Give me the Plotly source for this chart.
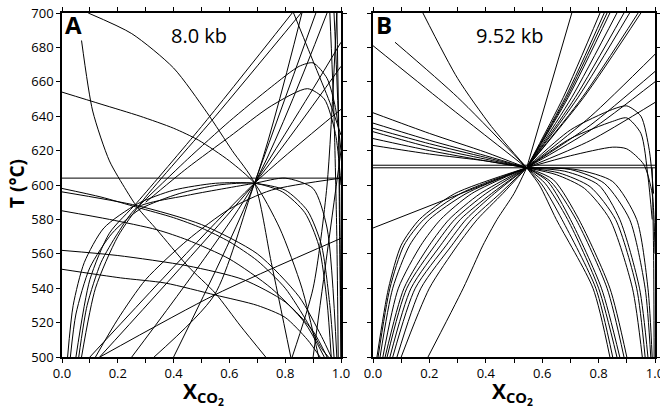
import plotly.graph_objects as go

# ---------------- Panel A (8.0 kb) curves: X_CO2 and T values ----------------
A_X = [
    [0.0, 1.0],
    [0.07, 0.11, 0.17, 0.23, 0.27, 0.34, 0.45, 0.55, 0.64, 0.73],
    [0.094, 0.25, 0.40, 0.52, 0.61, 0.69, 0.75, 0.82],
    [0.0, 0.14, 0.28, 0.40, 0.49, 0.60, 0.69, 0.78, 0.86, 0.92],
    [0.0, 0.14, 0.27, 0.40, 0.50, 0.60, 0.70, 0.80, 0.88, 0.93, 0.955],
    [0.0, 0.27, 0.50, 0.70, 0.85, 0.93, 0.965],
    [0.0, 0.17, 0.34, 0.45, 0.60, 0.75, 0.87, 0.94],
    [0.0, 0.20, 0.45, 0.65, 0.80, 0.90, 0.95],
    [0.0, 0.21, 0.37, 0.55, 0.70, 0.80, 0.88, 0.925],
    [0.136, 0.546, 1.0],
    [0.33, 0.546, 0.69, 0.91],
    [0.69, 0.90, 1.0],
    [0.05, 0.10, 0.17, 0.27, 0.50, 0.825],
    [0.07, 0.12, 0.20, 0.29, 0.55, 0.857],
    [0.27, 0.45, 0.60, 0.75, 0.85, 0.90, 0.95, 0.98, 1.0],
    [0.30, 0.45, 0.60, 0.75, 0.88, 0.94, 0.98, 1.0],
    [0.40, 0.69, 0.86],
    [0.25, 0.69, 0.95],
    [0.135, 0.69, 1.0],
    [0.10, 0.69, 1.0],
    [0.02, 0.04, 0.08, 0.15, 0.27, 0.40, 0.55, 0.69, 0.80, 0.88, 0.93, 0.96, 0.975],
    [0.03, 0.05, 0.10, 0.18, 0.28, 0.42, 0.56, 0.69, 0.79, 0.87, 0.92, 0.95, 0.965],
    [0.06, 0.09, 0.14, 0.20, 0.27, 0.45, 0.69, 0.80, 0.90, 0.95, 0.985],
    [0.825, 0.90, 0.95, 0.985],
    [0.96, 0.975, 0.985, 0.99],
    [0.975, 0.99, 0.995, 1.0],
    [0.985, 0.995, 1.0],
    [0.83, 0.90, 0.96, 1.0],
    [0.90, 0.95, 1.0],
    [0.12, 0.20, 0.30, 0.45, 0.60, 0.75, 1.0],
]
A_T = [
    [604, 604],
    [684, 643, 614, 597, 587, 574, 553, 537, 518, 500],
    [700, 688, 668, 642, 620, 601, 555, 500],
    [654, 647, 640, 633, 626, 614, 601, 575, 540, 500],
    [598, 593, 587, 581, 575, 567, 556, 540, 520, 505, 500],
    [596, 588, 577, 560, 535, 512, 500],
    [585, 580, 574, 568, 557, 540, 520, 500],
    [562, 559, 553, 545, 532, 515, 500],
    [551, 546, 543, 536, 530, 523, 510, 500],
    [500, 536, 569],
    [500, 536, 601, 700],
    [601, 656, 683],
    [500, 545, 572, 590, 634, 700],
    [500, 540, 570, 591, 640, 700],
    [587, 615, 637, 657, 669, 671, 662, 645, 620],
    [590, 610, 628, 646, 656, 650, 630, 600],
    [500, 601, 700],
    [500, 601, 700],
    [500, 601, 669],
    [500, 601, 644],
    [500, 530, 555, 575, 589, 597, 601, 601, 597, 585, 565, 530, 500],
    [500, 525, 552, 572, 586, 595, 600, 601, 596, 584, 565, 532, 500],
    [500, 530, 555, 572, 587, 594, 601, 604, 598, 575, 500],
    [500, 540, 600, 700],
    [700, 640, 570, 500],
    [700, 640, 570, 500],
    [700, 600, 500],
    [700, 672, 648, 629],
    [500, 560, 620],
    [500, 522, 545, 568, 586, 597, 604],
]

# ---------------- Panel B (9.52 kb) curves ----------------
B_X = [
    [0.0, 1.0],
    [0.0, 1.0],
    # lower-left fan into the invariant point
    [0.014, 0.055, 0.10, 0.165, 0.29, 0.545],
    [0.018, 0.06, 0.11, 0.18, 0.31, 0.545],
    [0.025, 0.07, 0.13, 0.20, 0.33, 0.545],
    [0.035, 0.09, 0.17, 0.24, 0.35, 0.545],
    [0.043, 0.11, 0.20, 0.27, 0.38, 0.545],
    [0.05, 0.12, 0.22, 0.29, 0.40, 0.545],
    [0.06, 0.135, 0.24, 0.31, 0.42, 0.545],
    [0.07, 0.15, 0.26, 0.33, 0.43, 0.545],
    [0.085, 0.17, 0.28, 0.35, 0.45, 0.545],
    [0.10, 0.20, 0.30, 0.37, 0.46, 0.545],
    [0.195, 0.32, 0.39, 0.44, 0.50, 0.545],
    [0.0, 0.545],
    # upper-left fan
    [0.0, 0.20, 0.40, 0.545],
    [0.0, 0.20, 0.40, 0.545],
    [0.0, 0.20, 0.40, 0.545],
    [0.0, 0.20, 0.40, 0.545],
    [0.0, 0.20, 0.40, 0.545],
    [0.0, 0.20, 0.40, 0.545],
    [0.0, 0.25, 0.545],
    [0.078, 0.30, 0.545],
    [0.177, 0.30, 0.42, 0.545],
    # upper-right fan
    [0.545, 0.705],
    [0.545, 0.675, 0.805],
    [0.545, 0.6825, 0.82],
    [0.545, 0.6875, 0.83],
    [0.545, 0.6925, 0.84],
    [0.545, 0.705, 0.865],
    [0.545, 0.7175, 0.89],
    [0.545, 0.7275, 0.91],
    [0.545, 0.7425, 0.94],
    [0.545, 0.7475, 0.95],
    [0.545, 0.7725, 1.0],
    [0.545, 0.7725, 1.0],
    [0.545, 0.7725, 1.0],
    [0.545, 0.7725, 1.0],
    # right domes
    [0.545, 0.70, 0.85, 0.90, 0.95, 0.98, 0.995],
    [0.545, 0.70, 0.85, 0.90, 0.95, 0.975, 0.99],
    [0.545, 0.70, 0.85, 0.90, 0.96, 0.99, 1.0],
    [0.99, 0.995, 0.997],
    # lower-right fan
    [0.545, 0.59, 0.65, 0.78, 0.84],
    [0.545, 0.60, 0.67, 0.79, 0.85],
    [0.545, 0.61, 0.69, 0.80, 0.865],
    [0.545, 0.62, 0.70, 0.81, 0.875],
    [0.545, 0.63, 0.72, 0.83, 0.89],
    [0.545, 0.64, 0.73, 0.84, 0.90],
    [0.545, 0.65, 0.75, 0.84, 0.92, 0.955],
    [0.545, 0.66, 0.77, 0.86, 0.935, 0.965],
    [0.545, 0.68, 0.80, 0.875, 0.945, 0.975],
    [0.545, 0.70, 0.82, 0.91, 0.965, 0.985],
    [0.545, 0.72, 0.85, 0.935, 0.975, 0.99],
]
B_T = [
    [610, 610],
    [611.5, 611.5],
    [500, 540, 565, 580, 595, 610],
    [500, 540, 565, 580, 595, 610],
    [500, 540, 565, 580, 595, 610],
    [500, 540, 565, 580, 595, 610],
    [500, 540, 565, 580, 595, 610],
    [500, 540, 565, 580, 595, 610],
    [500, 540, 565, 580, 595, 610],
    [500, 540, 565, 580, 595, 610],
    [500, 540, 565, 580, 595, 610],
    [500, 540, 565, 580, 595, 610],
    [500, 540, 565, 580, 595, 610],
    [575, 610],
    [642, 630, 619, 610],
    [636, 626, 617, 610],
    [633, 624, 616, 610],
    [631, 622, 615, 610],
    [627, 620, 614, 610],
    [623, 618, 614, 610],
    [681, 648, 610],
    [683, 651, 610],
    [700, 662, 634, 610],
    [610, 700],
    [610, 651, 700],
    [610, 651, 700],
    [610, 651, 700],
    [610, 651, 700],
    [610, 651, 700],
    [610, 651, 700],
    [610, 651, 700],
    [610, 651, 700],
    [610, 651, 700],
    [610, 640, 676],
    [610, 635, 666],
    [610, 632, 660],
    [610, 626, 648],
    [610, 632, 644, 646, 640, 620, 595],
    [610, 627, 637, 639, 630, 605, 580],
    [610, 617, 622, 621, 612, 595, 560],
    [610, 560, 500],
    [610, 600, 580, 540, 500],
    [610, 600, 580, 540, 500],
    [610, 601, 580, 540, 500],
    [610, 602, 580, 540, 500],
    [610, 602, 580, 540, 500],
    [610, 603, 580, 540, 500],
    [610, 606, 598, 580, 540, 500],
    [610, 607, 599, 580, 540, 500],
    [610, 608, 600, 580, 540, 500],
    [610, 609, 601, 580, 540, 500],
    [610, 609, 602, 580, 540, 500],
]

x_ticks = [0.0, 0.2, 0.4, 0.6, 0.8, 1.0]
x_ticklabels = ["0.0", "0.2", "0.4", "0.6", "0.8", "1.0"]
y_ticks = [500, 520, 540, 560, 580, 600, 620, 640, 660, 680, 700]

line_style = dict(color="black", width=1, shape="spline", smoothing=0.7)
fig = go.Figure()
for xs, ts in zip(A_X, A_T):
    fig.add_trace(go.Scatter(x=xs, y=ts, mode="lines", xaxis="x", yaxis="y",
                             line=line_style, showlegend=False, hoverinfo="skip"))
for xs, ts in zip(B_X, B_T):
    fig.add_trace(go.Scatter(x=xs, y=ts, mode="lines", xaxis="x2", yaxis="y2",
                             line=line_style, showlegend=False, hoverinfo="skip"))

W, H = 660, 414
ML, MR, MT, MB = 62, 5, 13, 57
PW = W - ML - MR
tickfont = dict(family="Open Sans", size=13, color="black")
axis_common = dict(range=[0, 1], showgrid=False, zeroline=False, showline=True,
                   linecolor="black", linewidth=1.5, ticks="outside", ticklen=4,
                   tickcolor="black", mirror="ticks", tickvals=x_ticks,
                   ticktext=x_ticklabels, automargin=False, ticklabeloverflow="allow",
                   minor=dict(ticks="outside", ticklen=4, dtick=0.1, tickcolor="black"),
                   tickfont=tickfont)
yaxis_common = dict(range=[500, 700], showgrid=False, zeroline=False, showline=True,
                    linecolor="black", linewidth=1.5, ticks="outside", ticklen=4,
                    tickcolor="black", mirror="ticks", tickvals=y_ticks,
                    automargin=False, tickfont=tickfont)

fig.update_layout(
    width=W, height=H, margin=dict(l=ML, r=MR, t=MT, b=MB, autoexpand=False),
    paper_bgcolor="white", plot_bgcolor="white",
    xaxis=dict(axis_common, domain=[0, (341 - ML) / PW], anchor="y"),
    yaxis=dict(yaxis_common, domain=[0, 1], anchor="x"),
    xaxis2=dict(axis_common, domain=[(373 - ML) / PW, 1], anchor="y2"),
    yaxis2=dict(yaxis_common, domain=[0, 1], anchor="x2", showticklabels=False),
)

ann_font = dict(family="Open Sans", color="black")
anns = [
    dict(text="<b>A</b>", x=0.005, y=1.02, xref="x domain", yref="y domain",
         xanchor="left", yanchor="top", font=dict(ann_font, size=24)),
    dict(text="<b>B</b>", x=0.005, y=1.02, xref="x2 domain", yref="y2 domain",
         xanchor="left", yanchor="top", font=dict(ann_font, size=24)),
    dict(text="8.0 kb", x=0.49, y=0.936, xref="x domain", yref="y domain",
         xanchor="center", yanchor="middle", font=dict(ann_font, size=20)),
    dict(text="9.52 kb", x=0.487, y=0.936, xref="x2 domain", yref="y2 domain",
         xanchor="center", yanchor="middle", font=dict(ann_font, size=20)),
    dict(text="<b>T (°C)</b>", x=17, y=184, xref="paper", yref="paper",
         textangle=-90, xanchor="center", yanchor="middle", font=dict(ann_font, size=19)),
    dict(text="<b>X<sub>CO<sub>2</sub></sub></b>", x=203, y=393, xref="paper",
         yref="paper", xanchor="center", yanchor="middle", font=dict(ann_font, size=21)),
    dict(text="<b>X<sub>CO<sub>2</sub></sub></b>", x=512, y=393, xref="paper",
         yref="paper", xanchor="center", yanchor="middle", font=dict(ann_font, size=21)),
]
for a in anns:
    if a["xref"] == "paper":
        a["x"] = (a["x"] - ML) / PW
        a["y"] = (H - MB - a["y"]) / (H - MT - MB)
    a["showarrow"] = False
    fig.add_annotation(**a)

fig.write_html("out.html", config={"displayModeBar": False},
               post_script="document.body.style.margin='0';document.body.style.padding='0';")
